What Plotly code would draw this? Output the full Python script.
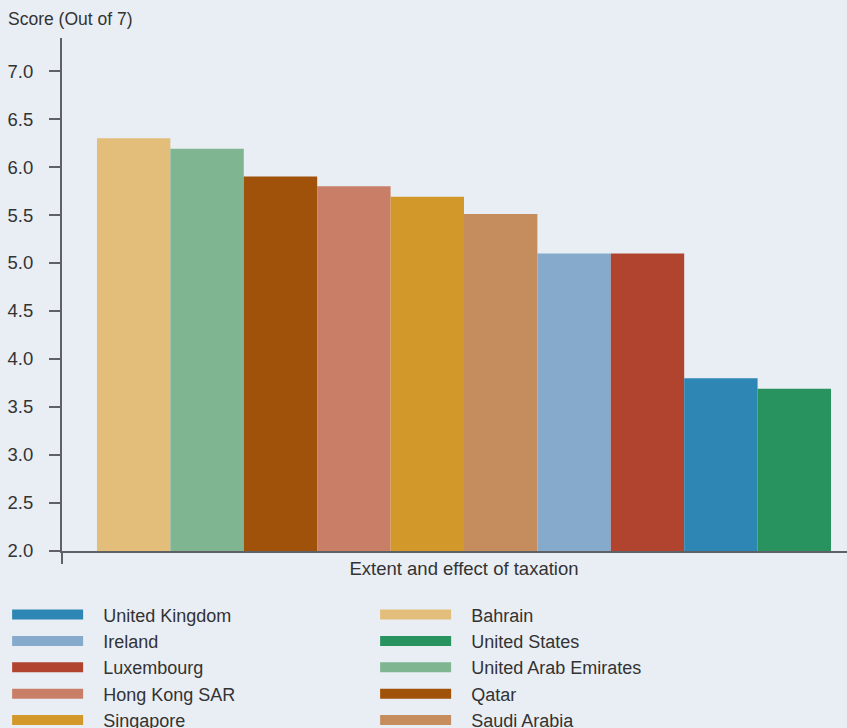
import plotly.graph_objects as go

category = "Extent and effect of taxation"
countries = ["Bahrain", "United Arab Emirates", "Qatar", "Hong Kong SAR", "Singapore",
             "Saudi Arabia", "Ireland", "Luxembourg", "United Kingdom", "United States"]
scores = [6.3, 6.19, 5.9, 5.8, 5.69, 5.51, 5.1, 5.1, 3.8, 3.69]
colors = ["#e3bd7a", "#80b592", "#a0520a", "#c97e68", "#d3982a",
          "#c58d5d", "#85aacb", "#b0442f", "#2e86b4", "#28935f"]
legend_order = ["United Kingdom", "Bahrain", "Ireland", "United States", "Luxembourg",
                "United Arab Emirates", "Hong Kong SAR", "Qatar", "Singapore", "Saudi Arabia"]
y_ticks = [2.0, 2.5, 3.0, 3.5, 4.0, 4.5, 5.0, 5.5, 6.0, 6.5, 7.0]

color_of = dict(zip(countries, colors))
BG = "#e9eef5"
AX = "#5f6166"
TXT = "#333333"
PAD = "\u00a0\u00a0\u00a0"

fig = go.Figure()
for name, val, col in zip(countries, scores, colors):
    fig.add_trace(go.Bar(x=[category], y=[val], name=name, marker=dict(color=col, line=dict(width=0)),
                         showlegend=False, offsetgroup=name))

for rank, name in enumerate(legend_order):
    fig.add_trace(go.Scatter(x=[None], y=[None], mode="lines", name=PAD + name,
                             line=dict(color=color_of[name], width=12),
                             legendrank=rank + 1, showlegend=True))

fig.update_layout(
    width=847, height=728,
    margin=dict(l=62, r=0, t=38, b=177, autoexpand=False),
    paper_bgcolor=BG, plot_bgcolor=BG,
    barmode="group", bargap=0.087, bargroupgap=0,
    font=dict(family="Liberation Sans", size=16, color=TXT),
    showlegend=True,
    legend=dict(orientation="h", x=-0.0699, xanchor="left", y=-0.0883, yanchor="top",
                entrywidth=282, entrywidthmode="pixels", itemwidth=71,
                font=dict(family="Liberation Sans", size=18, color=TXT),
                bgcolor="rgba(0,0,0,0)", traceorder="normal"),
    annotations=[dict(text="Score (Out of 7)", xref="paper", yref="paper", x=-62/785, y=1 + 19/513,
                      xanchor="left", yanchor="middle", showarrow=False, xshift=6,
                      font=dict(family="Liberation Sans", size=17.5, color=TXT))],
)
fig.update_xaxes(type="category", range=[-0.5, 0.4764], showgrid=False, zeroline=False,
                 showline=True, linecolor=AX, linewidth=2,
                 ticks="outside", tickson="boundaries", ticklen=11, tickcolor=AX, tickwidth=2,
                 tickfont=dict(size=18.5, color=TXT))
fig.update_yaxes(range=[2, 7.344], tickvals=y_ticks, ticktext=[f"{v:.1f}" for v in y_ticks],
                 showgrid=False, zeroline=False, showline=True, linecolor=AX, linewidth=2,
                 ticks="outside", ticklen=11, tickcolor=AX, tickwidth=2, ticklabelstandoff=12,
                 tickfont=dict(size=18.5, color=TXT))

fig.write_html("out.html")
